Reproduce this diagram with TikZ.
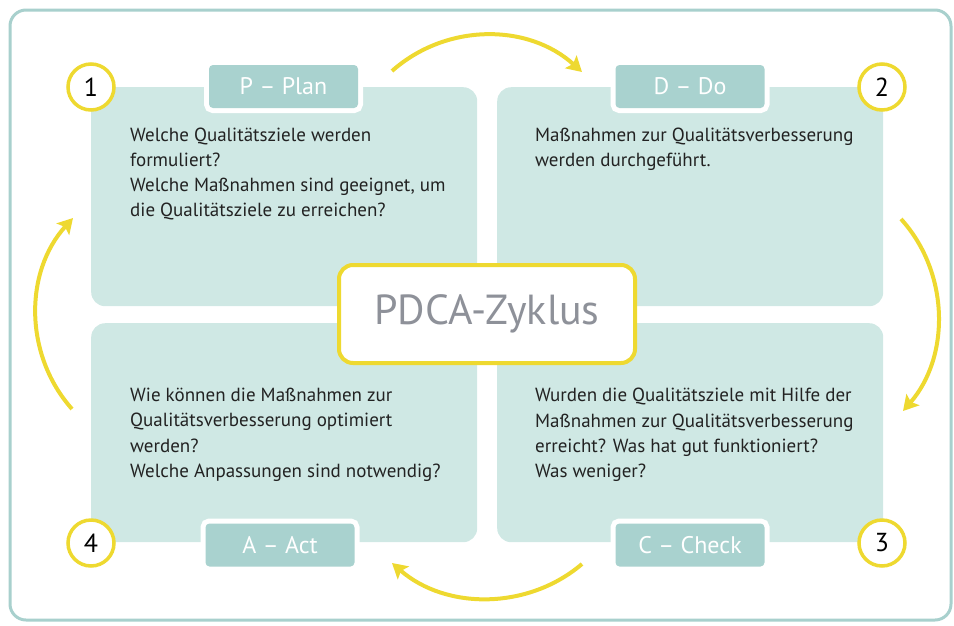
\documentclass[tikz,border=0pt]{standalone}
\usepackage{fontspec}
\setmainfont{PT Sans}
\usepackage{tikz}
\usetikzlibrary{arrows.meta}
\definecolor{quadfill}{HTML}{CFE8E4}
\definecolor{tabfill}{HTML}{A9D2CF}
\definecolor{framecol}{HTML}{A8D0CD}
\definecolor{pdcayellow}{HTML}{EED930}
\definecolor{pdcagrey}{HTML}{8E9199}
\definecolor{bodytext}{HTML}{222222}

\begin{document}
\begin{tikzpicture}[x=1pt,y=-1pt,
  quad/.style={fill=quadfill, rounded corners=14pt, minimum width=386pt, minimum height=219pt, inner sep=0pt, anchor=north west},
  tab/.style={fill=tabfill, rounded corners=4pt, preaction={draw=white,line width=10pt}, minimum width=149pt, minimum height=43pt, inner sep=0pt, text=white, font=\fontsize{24}{30}\selectfont},
  num/.style={circle, draw=pdcayellow, line width=3.5pt, fill=white, minimum size=46pt, inner sep=0pt, font=\fontsize{26}{30}\selectfont},
  body/.style={anchor=north west, inner sep=0pt, align=left, text=bodytext, font=\fontsize{19}{25.3}\selectfont},
  cyclearrow/.style={draw=pdcayellow, line width=4pt, -{Stealth[length=15pt,width=17pt,inset=3pt]}}
]
\useasboundingbox (0,0) rectangle (954,625);
\draw[framecol, line width=3pt, rounded corners=16pt] (10,10) rectangle (951,620);

% four quadrants
\node[quad] (plan) at (91,87) {};
\node[quad] (do) at (497,87) {};
\node[quad] (act) at (91,323) {};
\node[quad] (check) at (497,323) {};

% centre
\node[draw=pdcayellow, line width=4pt, fill=white, rounded corners=14pt, minimum width=296pt, minimum height=98pt, text=pdcagrey, font=\fontsize{42}{50}\selectfont] (zyklus) at (487,314) {PDCA-Zyklus};

% tabs
\node[tab] (plantab) at (283.5,86.5) {P -- Plan};
\node[tab] (dotab) at (690,86.5) {D -- Do};
\node[tab] (acttab) at (280,545) {A -- Act};
\node[tab] (checktab) at (690,545) {C -- Check};

% numbers
\node[num] (n1) at (91,87) {1};
\node[num] (n2) at (882,87) {2};
\node[num] (n3) at (882,543) {3};
\node[num] (n4) at (91,543) {4};

% texts
\node[body] (plantext) at (130,127.3) {Welche Qualitätsziele werden\\formuliert?\\Welche Maßnahmen sind geeignet, um\\die Qualitätsziele zu erreichen?};
\node[body] (dotext) at (535,127.3) {Maßnahmen zur Qualitätsverbesserung\\werden durchgeführt.};
\node[body] (acttext) at (130,388) {Wie können die Maßnahmen zur\\Qualitätsverbesserung optimiert\\werden?\\Welche Anpassungen sind notwendig?};
\node[body] (checktext) at (535,388) {Wurden die Qualitätsziele mit Hilfe der\\Maßnahmen zur Qualitätsverbesserung\\erreicht? Was hat gut funktioniert?\\Was weniger?};

% cycle arrows
\coordinate (topS) at (392,71);
\coordinate (topE) at (582,72);
\coordinate (rightS) at (901,219);
\coordinate (rightE) at (903,411);
\coordinate (botS) at (582,564);
\coordinate (botE) at (392,563);
\coordinate (leftS) at (72,409);
\coordinate (leftE) at (73,218);
\draw[cyclearrow] (topS) .. controls (446,23) and (528,23) .. (topE);
\draw[cyclearrow] (rightS) .. controls (950,273) and (950,357) .. (rightE);
\draw[cyclearrow] (botS) .. controls (528,610) and (446,610) .. (botE);
\draw[cyclearrow] (leftS) .. controls (24,355) and (24,272) .. (leftE);
\end{tikzpicture}
\end{document}
